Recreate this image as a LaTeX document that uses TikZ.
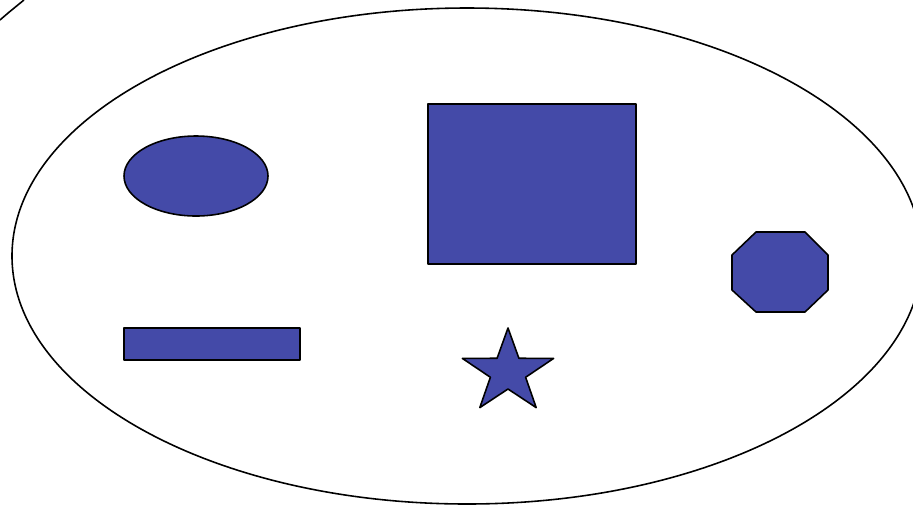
\documentclass[tikz,border=0pt]{standalone}
\usetikzlibrary{shapes.geometric}
\definecolor{shfill}{HTML}{444AA8}
\definecolor{shline}{HTML}{000000}
\tikzset{
  every picture/.style={line join=round},
  outline/.style={draw=shline, line width=0.9pt},
  solid shape/.style={draw=shline, fill=shfill, line width=0.9pt},
}

\begin{document}
\begin{tikzpicture}[x=0.02cm, y=-0.02cm]
\useasboundingbox (0, 0) rectangle (913, 505);

% ---- frame: outer set and the cut-off stroke in the corner
\draw[outline] (467, 256) ellipse [x radius=455, y radius=248];
\draw[outline] (0, 20) .. controls (8, 13) .. (24, 0);

% ---- members
\draw[solid shape] (196, 176) ellipse [x radius=72, y radius=40];
\draw[solid shape] (428, 104) rectangle (636, 264);
\draw[solid shape] (124, 328) rectangle (300, 360);
\draw[solid shape] (756, 232) -- (805, 232) -- (828, 255) -- (828, 290)
  -- (805, 312) -- (756, 312) -- (732, 290) -- (732, 255) -- cycle;
\begin{scope}[shift={(508, 372)}, xscale=1.09, yscale=-1]
  \draw[solid shape] (90:44) -- (126:17) -- (162:44) -- (198:17) -- (234:44)
    -- (270:17) -- (306:44) -- (342:17) -- (18:44) -- (54:17) -- cycle;
\end{scope}

\end{tikzpicture}
\end{document}
